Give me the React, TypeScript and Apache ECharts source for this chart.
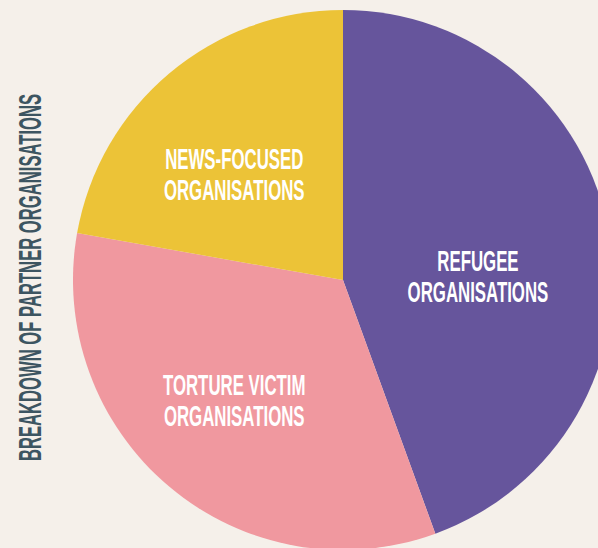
import React, { useEffect, useRef } from "react";
import * as echarts from "echarts";

const categories = ["REFUGEE\nORGANISATIONS", "TORTURE VICTIM\nORGANISATIONS", "NEWS-FOCUSED\nORGANISATIONS"];
const values = [4, 3, 2];
const colors = ["#66559c", "#f0989f", "#ecc337"];
const labelOffsets = [[2, 20], [-22, 17], [-22, -2]];
const title = "BREAKDOWN OF PARTNER ORGANISATIONS";

const FONT = "'Liberation Sans Narrow', 'Liberation Sans', Arial, sans-serif";

export default function App() {
  const ref = useRef<HTMLDivElement>(null);
  useEffect(() => {
    document.body.style.margin = "0";
    document.body.style.background = "#f5f0ea";
    const chart = echarts.init(ref.current!, undefined, { renderer: "svg" });
    const titleGraphic = {
      type: "text",
      x: 30,
      y: 277.5,
      rotation: Math.PI / 2,
      scaleX: 0.52,
      style: {
        text: title,
        fill: "#3d5561",
        font: "bold 32px " + FONT,
        align: "center",
        verticalAlign: "middle",
      },
    };
    chart.setOption({
      animation: false,
      backgroundColor: "#f5f0ea",
      graphic: [titleGraphic],
      series: [
        {
          type: "pie",
          center: [343, 280],
          radius: 270,
          startAngle: 90,
          clockwise: true,
          silent: true,
          label: { show: false },
          labelLine: { show: false },
          itemStyle: { borderWidth: 0 },
          data: categories.map((name, i) => ({
            name,
            value: values[i],
            itemStyle: { color: colors[i] },
          })),
        },
      ],
    });

    // Place condensed labels using the pie layout computed by ECharts
    const labels: any[] = [];
    try {
      const data = (chart as any).getModel().getSeriesByIndex(0).getData();
      categories.forEach((name, i) => {
        const lay = data.getItemLayout(i);
        const mid = (lay.startAngle + lay.endAngle) / 2;
        const rr = (lay.r + (lay.r0 || 0)) / 2;
        const x = lay.cx + rr * Math.cos(mid) + labelOffsets[i][0];
        const y = lay.cy + rr * Math.sin(mid) + labelOffsets[i][1];
        labels.push({
          type: "text",
          x,
          y,
          scaleX: 0.58,
          silent: true,
          z: 100,
          style: {
            text: name,
            fill: "#ffffff",
            font: "bold 29px " + FONT,
            lineHeight: 31,
            align: "center",
            verticalAlign: "middle",
          },
        });
      });
    } catch (e) {}
    chart.setOption({ graphic: [titleGraphic, ...labels] }, { replaceMerge: ["graphic"] });
    return () => chart.dispose();
  }, []);
  return <div ref={ref} style={{ width: 598, height: 548 }} />;
}
